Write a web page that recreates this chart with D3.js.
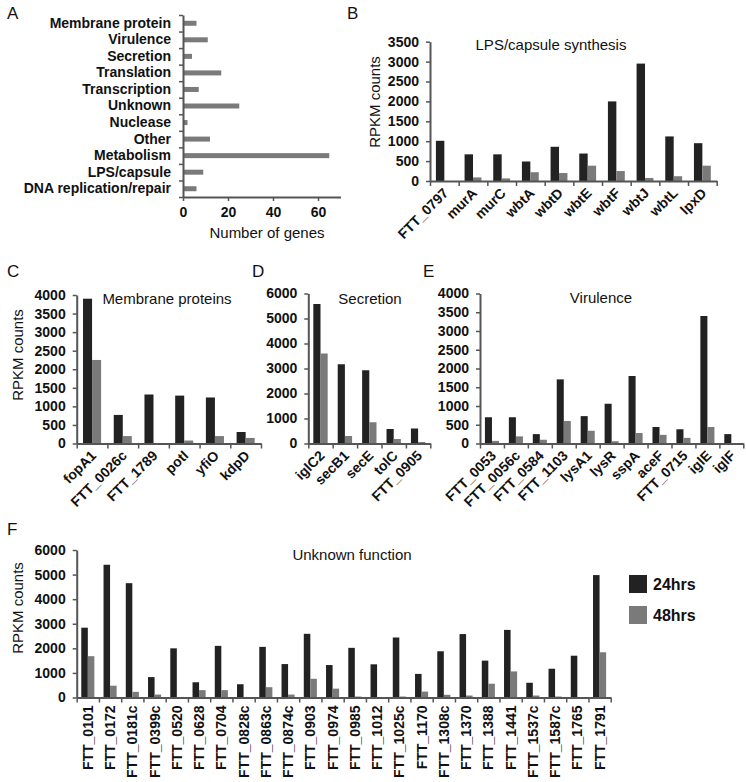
<!DOCTYPE html>
<html>
<head>
<meta charset="utf-8">
<script src="https://cdn.jsdelivr.net/npm/d3@7"></script>
<style>
body { margin: 0; background: #fff; }
svg text { font-family: "Liberation Sans", Arial, sans-serif; fill: #111; }
.axis .domain { stroke: #555; stroke-width: 2; }
.axis .tick line { stroke: #555; stroke-width: 1.5; }
</style>
</head>
<body>
<svg id="fig" width="746" height="782"></svg>
<script>
// A - number of genes per category
var catA = ["Membrane protein", "Virulence", "Secretion", "Translation", "Transcription",
  "Unknown", "Nuclease", "Other", "Metabolism", "LPS/capsule", "DNA replication/repair"];
var genesA = [6, 11, 4, 17, 7, 25, 2, 12, 65, 9, 6];
var ticksA = [0, 20, 40, 60];

// B - LPS/capsule synthesis
var genesB = ["FTT_0797", "murA", "murC", "wbtA", "wbtD", "wbtE", "wbtF", "wbtJ", "wbtL", "lpxD"];
var h24B = [1010, 670, 670, 490, 860, 690, 2000, 2950, 1120, 950];
var h48B = [0, 90, 65, 220, 200, 385, 250, 75, 120, 385];

// C - membrane proteins
var genesC = ["fopA1", "FTT_0026c", "FTT_1789", "potI", "yfiO", "kdpD"];
var h24C = [3900, 770, 1320, 1290, 1240, 310];
var h48C = [2250, 200, 0, 80, 200, 150];

// D - secretion
var genesD = ["iglC2", "secB1", "secE", "tolC", "FTT_0905"];
var h24D = [5580, 3170, 2930, 580, 600];
var h48D = [3600, 300, 850, 180, 60];

// E - virulence
var genesE = ["FTT_0053", "FTT_0056c", "FTT_0584", "FTT_1103", "lysA1", "lysR", "sspA",
  "aceF", "FTT_0715", "iglE", "iglF"];
var h24E = [700, 700, 250, 1710, 730, 1060, 1800, 440, 380, 3400, 250];
var h48E = [70, 190, 100, 600, 340, 60, 280, 230, 150, 440, 0];

// F - unknown function
var genesF = ["FTT_0101", "FTT_0172", "FTT_0181c", "FTT_0399c", "FTT_0520", "FTT_0628",
  "FTT_0704", "FTT_0828c", "FTT_0863c", "FTT_0874c", "FTT_0903", "FTT_0974", "FTT_0985",
  "FTT_1012", "FTT_1025c", "FTT_1170", "FTT_1308c", "FTT_1370", "FTT_1388", "FTT_1441",
  "FTT_1537c", "FTT_1587c", "FTT_1765", "FTT_1791"];
var h24F = [2840, 5400, 4650, 830, 2000, 620, 2100, 540, 2060, 1360, 2590, 1320, 2020,
  1350, 2440, 960, 1880, 2580, 1500, 2750, 600, 1170, 1700, 4980];
var h48F = [1680, 480, 230, 120, 0, 300, 300, 0, 420, 120, 760, 360, 40,
  0, 40, 240, 110, 80, 560, 1060, 80, 40, 0, 1840];

var seriesNames = ["24hrs", "48hrs"];
var colors = ["#222222", "#7a7a7a"];

var svg = d3.select("#fig");

// bold tick text, like the original
function boldText(sel) {
  sel.style("font-weight", "bold").style("font-size", "14px")
    .style("font-family", "'Liberation Sans', Arial, sans-serif").style("fill", "#111");
}

function panelLabel(t, x, y) {
  svg.append("text").attr("x", x).attr("y", y).attr("font-size", 17).text(t);
}

function yTitle(x, y) {
  svg.append("text").attr("transform", "translate(" + x + "," + y + ") rotate(-90)")
    .attr("text-anchor", "middle").attr("font-size", 15).text("RPKM counts");
}

// ---- panel A ----
(function () {
  var x = d3.scaleLinear().domain([0, 70]).range([183, 340.5]);
  var yb = d3.scaleBand().domain(catA).range([15, 197]);
  var yl = d3.scaleLinear().domain([0, catA.length]).range([15, 197]);

  svg.selectAll(".barA").data(genesA).join("rect")
    .attr("x", x(0)).attr("y", function (d, i) { return yb(catA[i]) + yb.bandwidth() / 2 - 2.5; })
    .attr("width", function (d) { return x(d) - x(0); }).attr("height", 5)
    .attr("fill", colors[1]);

  svg.append("g").attr("class", "axis").attr("transform", "translate(183,0)")
    .call(d3.axisLeft(yl).tickValues(d3.range(catA.length + 1)).tickFormat("").tickSize(4).tickSizeOuter(0));
  svg.append("g").attr("transform", "translate(179,0)")
    .call(d3.axisLeft(yb).tickSize(0).tickPadding(8))
    .call(function (g) { g.select(".domain").remove(); boldText(g.selectAll("text")); });
  svg.append("g").attr("class", "axis").attr("transform", "translate(0,197)")
    .call(d3.axisBottom(x).tickValues(ticksA).tickSize(4).tickSizeOuter(0).tickPadding(6))
    .call(function (g) { boldText(g.selectAll("text")); });
  svg.append("text").attr("x", 267).attr("y", 238).attr("text-anchor", "middle")
    .attr("font-size", 15).text("Number of genes");
  panelLabel("A", 7, 19);
})();

// ---- bar panels ----
function barPanel(o) {
  var y = d3.scaleLinear().domain([0, o.max]).range([o.y0, o.y1]);
  var x = d3.scaleBand().domain(o.genes).range([o.x0, o.x1]);
  var xl = d3.scaleLinear().domain([0, o.genes.length]).range([o.x0, o.x1]);
  var bw = x.bandwidth() / 3.4, off = (x.bandwidth() - 2 * bw) / 2;
  var g = svg.append("g");

  [o.h24, o.h48].forEach(function (vals, s) {
    g.selectAll(".s" + s).data(vals).join("rect")
      .attr("x", function (d, i) { return x(o.genes[i]) + off + s * bw; })
      .attr("y", function (d) { return y(d); })
      .attr("width", bw)
      .attr("height", function (d) { return o.y0 - y(d); })
      .attr("fill", colors[s]);
  });

  g.append("g").attr("class", "axis").attr("transform", "translate(" + o.x0 + ",0)")
    .call(d3.axisLeft(y).tickValues(d3.range(0, o.max + 1, o.step)).tickFormat(d3.format("d"))
      .tickSize(4).tickSizeOuter(0).tickPadding(7))
    .call(function (a) { boldText(a.selectAll("text")); });
  g.append("g").attr("class", "axis").attr("transform", "translate(0," + o.y0 + ")")
    .call(d3.axisBottom(xl).tickValues(d3.range(o.genes.length + 1)).tickFormat("").tickSize(5).tickSizeOuter(0));

  var lab = g.append("g").attr("transform", "translate(0," + o.y0 + ")")
    .call(d3.axisBottom(x).tickSize(0))
    .call(function (a) { a.select(".domain").remove(); });
  boldText(lab.selectAll("text"));
  lab.selectAll("text").attr("y", 0).attr("dy", 0)
    .attr("text-anchor", "end")
    .attr("transform", o.vertical ? "translate(5,8) rotate(-90)" : "translate(5,13) rotate(-45)");

  if (o.title) {
    svg.append("text").attr("x", o.title[1]).attr("y", o.title[2]).attr("text-anchor", "middle")
      .attr("font-size", 15).text(o.title[0]);
  }
}

barPanel({ genes: genesB, h24: h24B, h48: h48B, max: 3500, step: 500,
  x0: 430, x1: 716.7, y0: 181, y1: 41.7, title: ["LPS/capsule synthesis", 551, 50] });
yTitle(380, 102);
panelLabel("B", 347, 19);

barPanel({ genes: genesC, h24: h24C, h48: h48C, max: 4000, step: 500,
  x0: 76.7, x1: 261, y0: 443.5, y1: 295, title: ["Membrane proteins", 167, 304] });
yTitle(23, 355);
panelLabel("C", 7, 277);

barPanel({ genes: genesD, h24: h24D, h48: h48D, max: 6000, step: 1000,
  x0: 308.3, x1: 430.3, y0: 443.5, y1: 293.5, title: ["Secretion", 370, 304] });
panelLabel("D", 252, 277);

barPanel({ genes: genesE, h24: h24E, h48: h48E, max: 4000, step: 500,
  x0: 480, x1: 743.3, y0: 443.5, y1: 293.5, title: ["Virulence", 601, 303] });
panelLabel("E", 423, 277);

barPanel({ genes: genesF, h24: h24F, h48: h48F, max: 6000, step: 1000, vertical: true,
  x0: 76.7, x1: 610.7, y0: 697.5, y1: 550, title: ["Unknown function", 352, 560] });
yTitle(23, 608);
panelLabel("F", 7, 535);

// legend
var leg = svg.append("g").attr("transform", "translate(629,575)");
seriesNames.forEach(function (n, i) {
  leg.append("rect").attr("x", 0).attr("y", i * 31).attr("width", 18).attr("height", 18).attr("fill", colors[i]);
  leg.append("text").attr("x", 24).attr("y", i * 31 + 15).attr("font-size", 16)
    .attr("font-weight", "bold").text(n);
});
</script>
</body>
</html>
